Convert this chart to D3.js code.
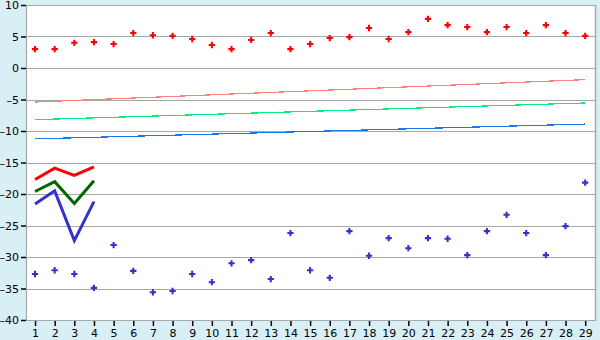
<!DOCTYPE html>
<html>
<head>
<meta charset="utf-8">
<script src="https://cdn.jsdelivr.net/npm/d3@7"></script>
<style>
  body { margin: 0; background: #d9eff6; }
  .chart text { font-family: "DejaVu Sans", Verdana, sans-serif; font-size: 10px; fill: #000; }
</style>
</head>
<body>
<div class="chart"></div>
<script>
// categories on the x axis
let categories = d3.range(1, 30);
let yTicks = [10, 5, 0, -5, -10, -15, -20, -25, -30, -35, -40];

// scattered points
let redPoints = [3.0, 3.0, 4.0, 4.1, 3.8, 5.55, 5.2, 5.1, 4.6, 3.65,
                 3.0, 4.45, 5.55, 3.0, 3.8, 4.75, 4.9, 6.35, 4.6, 5.7,
                 7.8, 6.8, 6.5, 5.7, 6.5, 5.55, 6.8, 5.55, 5.1];
let bluePoints = [-32.7, -32.1, -32.7, -34.9, -28.1, -32.2, -35.6, -35.4, -32.7, -34.0,
                  -31.0, -30.5, -33.5, -26.2, -32.1, -33.3, -25.9, -29.8, -27.0, -28.6,
                  -27.0, -27.1, -29.7, -25.9, -23.3, -26.2, -29.7, -25.1, -18.2];

// thick lines over the first four categories
let redLine = [-17.7, -15.9, -17.05, -15.7];
let greenLine = [-19.6, -18.05, -21.5, -17.9];
let blueLine = [-21.6, -19.5, -27.4, -21.2];

// trend lines, value at category 1 and at category 29
let trendCats = [1, 29];
let pinkTrend = [-5.4, -1.85];
let greenTrend = [-8.2, -5.55];
let blueTrend = [-11.25, -8.9];

let w = 600, h = 340;
let svg = d3.select(".chart").append("svg")
    .attr("width", w)
    .attr("height", h);

svg.append("rect").attr("width", w).attr("height", h).attr("fill", "#d9eff6");

let x = d3.scalePoint().domain(categories).range([25.2, 595]).padding(0.5);
let y = d3.scaleLinear().domain([-40, 10]).range([320, 5]);

let left = 26.5, right = 595.5;

svg.append("rect")
    .attr("x", left).attr("y", y(10))
    .attr("width", right - left).attr("height", y(-40) - y(10))
    .attr("fill", "#fff");

// grid
svg.append("g").selectAll("line")
    .data(yTicks)
    .enter().append("line")
    .attr("x1", left).attr("x2", right)
    .attr("y1", d => Math.round(y(d)) + 0.5)
    .attr("y2", d => Math.round(y(d)) + 0.5)
    .attr("stroke", "#a8a8a8")
    .attr("stroke-width", 1.2);

// frame sides
svg.append("line").attr("x1", left).attr("x2", left).attr("y1", y(10)).attr("y2", y(-40) + 1)
    .attr("stroke", "#a8a8a8").attr("stroke-width", 1.2);
svg.append("line").attr("x1", right).attr("x2", right).attr("y1", y(10)).attr("y2", y(-40) + 1)
    .attr("stroke", "#a8a8a8").attr("stroke-width", 1.5);

// y axis
let yAxis = d3.axisLeft(y).tickValues(yTicks).tickSize(5).tickPadding(2)
    .tickFormat(d => d < 0 ? "\u2013" + Math.abs(d) : d);
let gy = svg.append("g").attr("transform", "translate(" + (left - 0.5) + ",0)").call(yAxis);
gy.select(".domain").remove();
gy.selectAll(".tick line").attr("stroke", "#000").attr("stroke-width", 1.5);
gy.selectAll("text").style("font-size", "11px");

// x axis
let xAxis = d3.axisBottom(x).tickSize(5).tickPadding(3);
let gx = svg.append("g").attr("transform", "translate(0," + (y(-40) + 1) + ")").call(xAxis);
gx.select(".domain").remove();
gx.selectAll(".tick line").attr("stroke", "#000").attr("stroke-width", 1.5);
gx.selectAll("text").style("font-size", "11px");

// trend lines
let trendLine = d3.line().x((d, i) => x(trendCats[i])).y(d => y(d));
[[pinkTrend, "#ff8080"], [greenTrend, "#00f080"], [blueTrend, "#1a7ae6"]].forEach(function (t) {
    svg.append("path")
        .attr("d", trendLine(t[0]))
        .attr("fill", "none")
        .attr("stroke", t[1])
        .attr("stroke-width", 1.2)
        .attr("shape-rendering", "crispEdges");
});

// thick lines
let shortLine = d3.line().x((d, i) => x(categories[i])).y(d => y(d));
[[redLine, "#ff0000"], [greenLine, "#006600"], [blueLine, "#3333cc"]].forEach(function (t) {
    svg.append("path")
        .attr("d", shortLine(t[0]))
        .attr("fill", "none")
        .attr("stroke", t[1])
        .attr("stroke-width", 3);
});

// point markers
let cross = d3.symbol().type(d3.symbolCross).size(22);
function drawPoints(vals, color) {
    svg.append("g").selectAll("path")
        .data(vals)
        .enter().append("path")
        .attr("d", cross)
        .attr("transform", (d, i) => "translate(" + x(categories[i]) + "," + y(d) + ")")
        .attr("fill", color);
}
drawPoints(redPoints, "#ff0000");
drawPoints(bluePoints, "#3333cc");
</script>
</body>
</html>
